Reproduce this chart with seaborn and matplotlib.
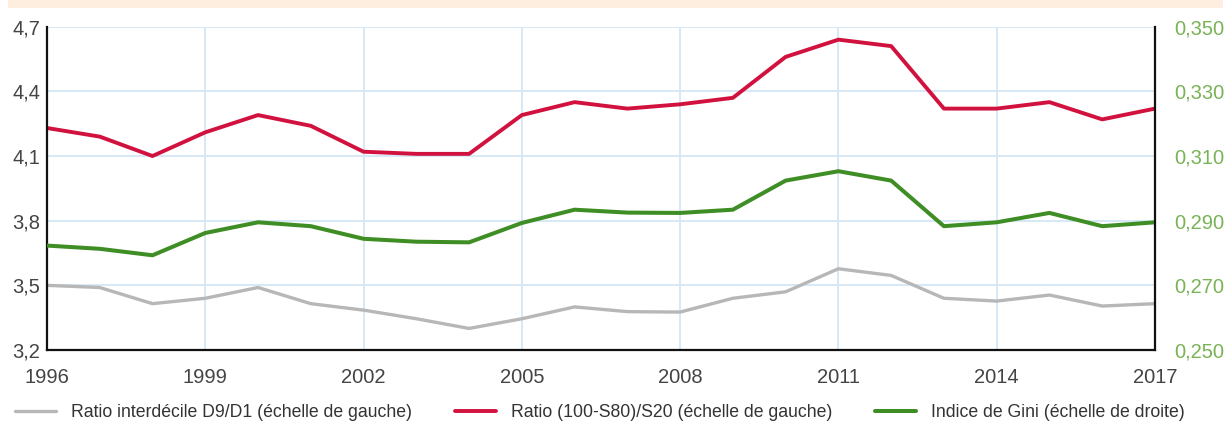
import numpy as np
import pandas as pd
import matplotlib as mpl
mpl.use("Agg")
import matplotlib.pyplot as plt
import seaborn as sns
from matplotlib.patches import Rectangle
from matplotlib.ticker import FuncFormatter

# data
years = list(range(1996, 2018))
d9d1 = [3.50, 3.49, 3.415, 3.44, 3.49, 3.415, 3.385, 3.345, 3.30, 3.345, 3.40,
        3.378, 3.376, 3.44, 3.47, 3.577, 3.546, 3.44, 3.427, 3.455, 3.404, 3.415]
s80s20 = [4.23, 4.19, 4.10, 4.21, 4.29, 4.24, 4.12, 4.11, 4.11, 4.29, 4.35,
          4.32, 4.34, 4.37, 4.56, 4.64, 4.61, 4.32, 4.32, 4.35, 4.27, 4.32]
gini = [0.2823, 0.2813, 0.2793, 0.2862, 0.2895, 0.2883, 0.2844, 0.2835, 0.2833, 0.2893, 0.2934,
        0.2925, 0.2924, 0.2934, 0.3024, 0.3053, 0.3024, 0.2883, 0.2895, 0.2924, 0.2883, 0.2895]

labels = ["Ratio interdécile D9/D1 (échelle de gauche)",
          "Ratio (100-S80)/S20 (échelle de gauche)",
          "Indice de Gini (échelle de droite)"]
xticks = [1996, 1999, 2002, 2005, 2008, 2011, 2014, 2017]
left_ticks = [3.2, 3.5, 3.8, 4.1, 4.4, 4.7]
right_ticks = [0.25, 0.27, 0.29, 0.31, 0.33, 0.35]

gray = "#b7b7b7"
red = "#d2123e"
green = "#3f8e25"
green_lbl = "#79b356"
grid_blue = "#d3e7f7"

df = pd.DataFrame({"year": years, "d9d1": d9d1, "s80s20": s80s20, "gini": gini})

sns.set_style("white")
plt.rcParams['font.family'] = ['Liberation Sans', 'DejaVu Sans']

fig = plt.figure(figsize=(12.27, 4.26), dpi=100)
ax = fig.add_axes([0.0383, 0.1784, 0.9030, 0.7589])
ax2 = ax.twinx()

sns.lineplot(data=df, x="year", y="d9d1", ax=ax, color=gray, lw=2.4, label=labels[0], legend=False)
sns.lineplot(data=df, x="year", y="s80s20", ax=ax, color=red, lw=2.8, label=labels[1], legend=False)
sns.lineplot(data=df, x="year", y="gini", ax=ax2, color=green, lw=2.9, label=labels[2], legend=False)

ax.set_xlim(1996, 2017)
ax.set_ylim(3.2, 4.7)
ax2.set_ylim(0.25, 0.35)
ax.set_xticks(xticks)
ax.set_yticks(left_ticks)
ax2.set_yticks(right_ticks)
ax.yaxis.set_major_formatter(FuncFormatter(lambda v, p: f"{v:.1f}".replace(".", ",")))
ax2.yaxis.set_major_formatter(FuncFormatter(lambda v, p: f"{v:.3f}".replace(".", ",")))

ax.grid(True, color=grid_blue, lw=1.3)
ax2.grid(False)
ax.set_axisbelow(True)
ax.set_xlabel("")
ax.set_ylabel("")
ax2.set_ylabel("")

for a in (ax, ax2):
    for s in a.spines.values():
        s.set_visible(False)
    a.spines["left"].set_visible(a is ax)
    a.spines["bottom"].set_visible(a is ax)
    a.spines["right"].set_visible(a is ax2)
    for s in a.spines.values():
        s.set_color("#111111")
        s.set_linewidth(1.6)

ax.tick_params(axis="y", length=0, pad=5, labelsize=14.5, labelcolor="#444444")
ax.tick_params(axis="x", length=0, pad=13, labelsize=14.5, labelcolor="#444444")
ax2.tick_params(axis="y", length=0, pad=14, labelsize=14.5, labelcolor=green_lbl)

# peach band at the top (cropped title strip)
fig.patches.append(Rectangle((0.0065, 0.981), 0.99, 0.02, transform=fig.transFigure,
                             facecolor="#fdeee0", edgecolor="none"))

h1, l1 = ax.get_legend_handles_labels()
h2, l2 = ax2.get_legend_handles_labels()
fig.legend(h1 + h2, l1 + l2, loc="center", bbox_to_anchor=(0.489, 0.031), ncol=3,
           frameon=False, fontsize=12.7, handlelength=2.35, handletextpad=0.85,
           columnspacing=2.4, labelcolor="#333333")

fig.savefig("out.png", dpi=100)
